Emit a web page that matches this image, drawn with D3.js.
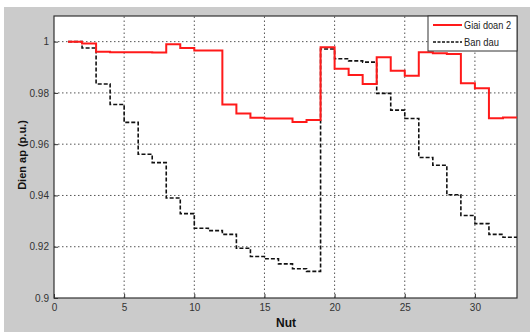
<!DOCTYPE html>
<html>
<head>
<meta charset="utf-8">
<script src="https://cdn.jsdelivr.net/npm/d3@7"></script>
<style>
  body { margin: 0; background: #fff; }
  svg { display: block; }
</style>
</head>
<body>
<div id="chart"></div>
<script>
// node numbers 1..33
const nodes = d3.range(1, 34);

// voltage after stage 2 (red)
const giaiDoan2 = [1.0, 0.9993, 0.9961, 0.9959, 0.9959, 0.9959, 0.9958, 0.999, 0.9975, 0.9965,
  0.9965, 0.9755, 0.972, 0.9703, 0.97, 0.97, 0.9687, 0.9694, 0.9978, 0.9894,
  0.987, 0.9835, 0.9939, 0.9886, 0.9867, 0.9959, 0.9955, 0.9952, 0.9838, 0.9818,
  0.9701, 0.9704, 0.9704];

// initial voltage (black dashed)
const banDau = [1.0, 0.9975, 0.9835, 0.9755, 0.9685, 0.9561, 0.9528, 0.939, 0.9329, 0.9272,
  0.9263, 0.9248, 0.9194, 0.9162, 0.9153, 0.9133, 0.9114, 0.9104, 0.9971, 0.9933,
  0.9925, 0.992, 0.9798, 0.9733, 0.97, 0.9548, 0.9518, 0.9403, 0.9322, 0.929,
  0.9248, 0.9237, 0.9237];

const xTicks = [0, 5, 10, 15, 20, 25, 30];
const yTicks = [0.9, 0.92, 0.94, 0.96, 0.98, 1];

const width = 530, height = 332;
const margin = { top: 16, right: 13, bottom: 34, left: 54 };

const svg = d3.select("#chart").append("svg")
  .attr("width", width)
  .attr("height", height);

// figure background
svg.append("rect")
  .attr("x", 4).attr("y", 7)
  .attr("width", width - 4).attr("height", height - 7)
  .attr("fill", "#cbcbcb");

const x = d3.scaleLinear().domain([0, 33]).range([margin.left, width - margin.right]);
const y = d3.scaleLinear().domain([0.9, 1.01]).range([height - margin.bottom, margin.top]);

svg.append("rect")
  .attr("x", x(0)).attr("y", y(1.01))
  .attr("width", x(33) - x(0)).attr("height", y(0.9) - y(1.01))
  .attr("fill", "#fff");

// grid
svg.append("g").selectAll("line")
  .data(xTicks.filter(d => d > 0))
  .join("line")
  .attr("x1", d => x(d)).attr("x2", d => x(d))
  .attr("y1", y(0.9)).attr("y2", y(1.01))
  .attr("stroke", "#555").attr("stroke-width", 1)
  .attr("stroke-dasharray", "1.5,2.5");

svg.append("g").selectAll("line")
  .data(yTicks.filter(d => d > 0.9))
  .join("line")
  .attr("x1", x(0)).attr("x2", x(33))
  .attr("y1", d => y(d)).attr("y2", d => y(d))
  .attr("stroke", "#555").attr("stroke-width", 1)
  .attr("stroke-dasharray", "1.5,2.5");

// axes
const xAxis = svg.append("g")
  .attr("transform", `translate(0,${y(0.9)})`)
  .call(d3.axisBottom(x).tickValues(xTicks).tickSize(-4).tickPadding(6));
const yAxis = svg.append("g")
  .attr("transform", `translate(${x(0)},0)`)
  .call(d3.axisLeft(y).tickValues(yTicks).tickFormat(d => d3.format("")(+d.toFixed(2))).tickSize(-4).tickPadding(5));

[xAxis, yAxis].forEach(g => {
  g.select(".domain").remove();
  g.selectAll("line").attr("stroke", "#333");
  g.selectAll("text")
    .attr("font-family", "Liberation Sans Narrow, Liberation Sans, Arial, sans-serif")
    .attr("font-size", 10)
    .attr("fill", "#333");
});

// frame
svg.append("rect")
  .attr("x", x(0)).attr("y", y(1.01))
  .attr("width", x(33) - x(0)).attr("height", y(0.9) - y(1.01))
  .attr("fill", "none").attr("stroke", "#333").attr("stroke-width", 1.2);

// stair lines
const stairs = d3.line()
  .x(d => x(d[0]))
  .y(d => y(d[1]))
  .curve(d3.curveStepAfter);

svg.append("path")
  .datum(nodes.map((n, i) => [n, banDau[i]]))
  .attr("d", stairs)
  .attr("fill", "none")
  .attr("stroke", "#111")
  .attr("stroke-width", 1.6)
  .attr("stroke-dasharray", "4,2");

svg.append("path")
  .datum(nodes.map((n, i) => [n, giaiDoan2[i]]))
  .attr("d", stairs)
  .attr("fill", "none")
  .attr("stroke", "#ff1a1a")
  .attr("stroke-width", 2);

// legend
const legend = svg.append("g");
legend.append("rect")
  .attr("x", 428).attr("y", y(1.01))
  .attr("width", x(33) - 428).attr("height", 35)
  .attr("fill", "#fff").attr("stroke", "#333").attr("stroke-width", 1);
const items = [
  { label: "Giai doan 2", color: "#ff1a1a", dash: null, w: 2, len: 47 },
  { label: "Ban dau", color: "#111", dash: "3,1.5", w: 1.6, len: 35 }
];
items.forEach((it, i) => {
  const ly = 25 + i * 17;
  legend.append("line")
    .attr("x1", 433).attr("x2", 462)
    .attr("y1", ly).attr("y2", ly)
    .attr("stroke", it.color).attr("stroke-width", it.w)
    .attr("stroke-dasharray", it.dash);
  legend.append("text")
    .attr("x", 464).attr("y", ly + 4)
    .attr("font-family", "Liberation Sans, Arial, sans-serif")
    .attr("font-size", 11)
    .attr("textLength", it.len)
    .attr("lengthAdjust", "spacingAndGlyphs")
    .attr("fill", "#222")
    .text(it.label);
});

// axis labels
svg.append("text")
  .attr("x", 286).attr("y", 327)
  .attr("text-anchor", "middle")
  .attr("font-family", "Liberation Sans, Arial, sans-serif")
  .attr("font-weight", "bold")
  .attr("font-size", 12)
  .attr("fill", "#111")
  .text("Nut");

svg.append("text")
  .attr("transform", "translate(26,155) rotate(-90)")
  .attr("text-anchor", "middle")
  .attr("font-family", "Liberation Sans, Arial, sans-serif")
  .attr("font-weight", "bold")
  .attr("font-size", 11)
  .attr("fill", "#111")
  .text("Dien ap (p.u.)");
</script>
</body>
</html>
